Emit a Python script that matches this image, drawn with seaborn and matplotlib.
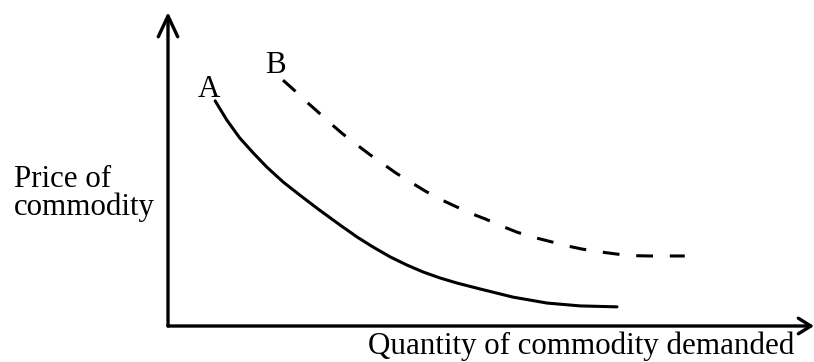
import matplotlib

matplotlib.use("Agg")
import matplotlib.pyplot as plt
import seaborn as sns
import pandas as pd

# Curve A (solid) and curve B (dashed), quantity vs price
qty_a = [7.3, 9.1, 11.1, 13.2, 15.3, 17.8, 20.4, 23.2, 26.6, 29.3, 31.7, 34.4,
         37.0, 39.5, 42.1, 44.7, 48.3, 53.4, 58.7, 63.8, 69.5]
price_a = [71.7, 65.6, 59.9, 55.1, 50.6, 45.9, 41.7, 37.3, 32.2, 28.3, 25.2, 22.0,
           19.4, 17.2, 15.3, 13.7, 11.8, 9.2, 7.3, 6.4, 6.1]

qty_b = [17.8, 19.7, 21.5, 23.2, 25.1, 27.1, 29.3, 31.3, 33.3, 35.3, 37.5, 39.8,
         42.1, 44.4, 46.7, 49.1, 51.7, 54.0, 56.5, 58.8, 61.8, 64.1, 66.9, 69.5,
         72.0, 74.6, 77.4, 80.0]
price_b = [78.3, 74.8, 71.3, 68.2, 64.6, 61.1, 57.6, 54.5, 51.6, 48.7, 45.9, 43.0,
           40.4, 38.2, 36.0, 34.1, 31.8, 29.9, 28.3, 27.1, 25.5, 24.5, 23.6, 22.9,
           22.4, 22.3, 22.3, 22.3]

curve_names = ["A", "B"]
x_label = "Quantity of commodity demanded"
y_label = "Price of\ncommodity"

df = pd.concat([
    pd.DataFrame({"qty": qty_a, "price": price_a, "curve": "A"}),
    pd.DataFrame({"qty": qty_b, "price": price_b, "curve": "B"}),
])

sns.set_style("white")
plt.rcParams["font.family"] = ["Liberation Serif", "DejaVu Serif"]
plt.rcParams["text.color"] = "black"
FS = 22.3

fig = plt.figure(figsize=(8.14, 3.62), dpi=100)
ax = fig.add_axes([168 / 814, 36 / 362, 646 / 814, 314 / 362])

sns.lineplot(
    data=df, x="qty", y="price", style="curve",
    dashes={"A": "", "B": (5.5, 5.5)},
    color="black", linewidth=2.2, estimator=None, sort=False,
    legend=False, ax=ax,
)

ax.set_xlim(0, 100)
ax.set_ylim(0, 100)
ax.set_xlabel("")
ax.set_ylabel("")
ax.set_xticks([])
ax.set_yticks([])
for s in ax.spines.values():
    s.set_visible(False)

# axes drawn as arrows
ax.annotate("", xy=(0, 1), xytext=(0, 0), xycoords="axes fraction",
            arrowprops=dict(arrowstyle="->,head_length=0.75,head_width=0.35",
                            lw=2.4, color="black", shrinkA=0, shrinkB=0,
                            mutation_scale=20))
ax.annotate("", xy=(1, 0), xytext=(0, 0), xycoords="axes fraction",
            arrowprops=dict(arrowstyle="->,head_length=0.45,head_width=0.28",
                            lw=2.4, color="black", shrinkA=0, shrinkB=0,
                            mutation_scale=20))

# curve labels
ax.text(qty_a[0] - 1.0, price_a[0] + 1.2, curve_names[0], fontsize=FS,
        ha="center", va="baseline")
ax.text(qty_b[0] - 1.1, price_b[0] + 2.3, curve_names[1], fontsize=FS,
        ha="center", va="baseline")

fig.text(368 / 814, 1 - 354 / 362, x_label, fontsize=FS, ha="left", va="baseline")
# multi-line baseline alignment uses the last line
fig.text(14 / 814, 1 - 215 / 362, y_label, fontsize=FS, ha="left", va="baseline",
         linespacing=0.93)

plt.savefig("out.png", dpi=100, facecolor="white")
plt.close(fig)
